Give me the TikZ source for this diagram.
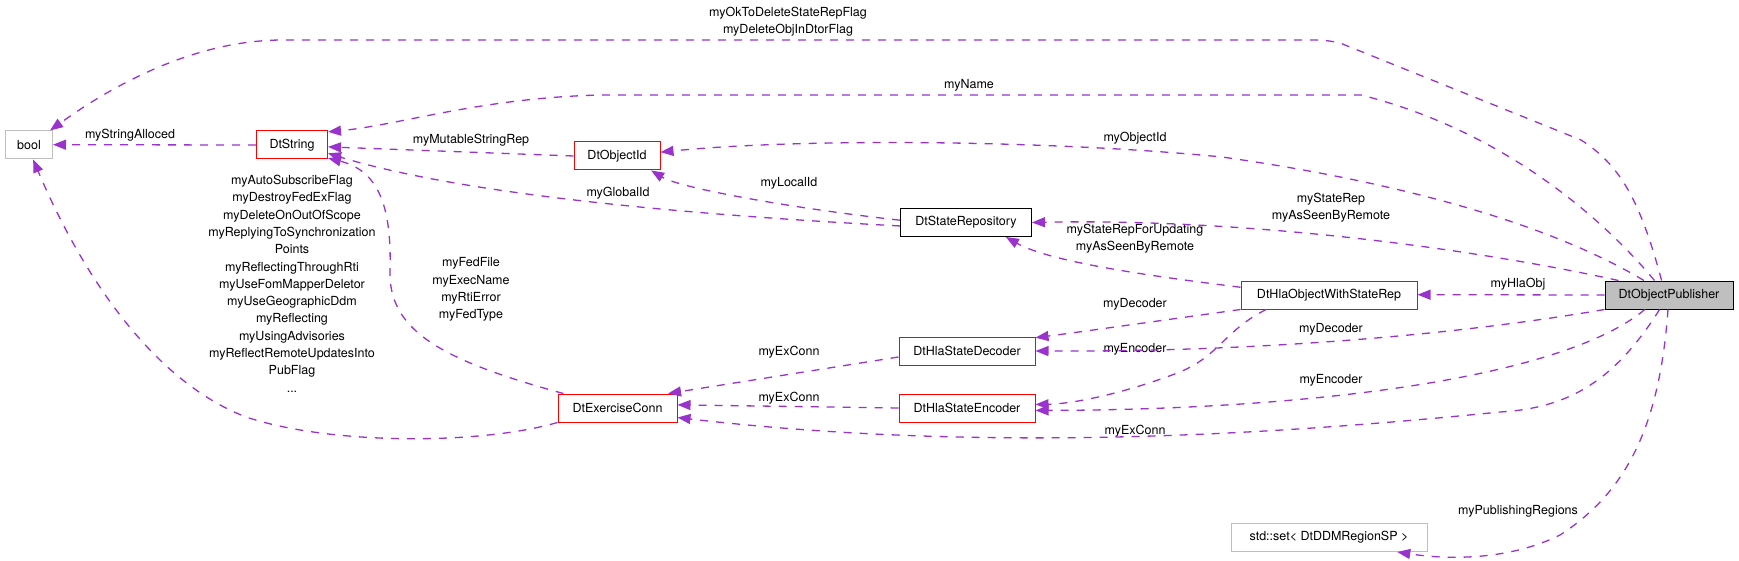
\documentclass[tikz,border=0pt]{standalone}
\usepackage{fontspec}
\setmainfont{TeX Gyre Heros}
\usetikzlibrary{arrows.meta}
\definecolor{pourpre}{HTML}{9A32CD}
\definecolor{gris}{HTML}{BFBFBF}
\tikzstyle{boite} = [rectangle, draw=red, line width=1pt, minimum height=28pt, inner sep=0pt, font=\fontsize{12.5}{15}\selectfont]
\tikzstyle{grise} = [boite, draw=gris]
\tikzstyle{noire} = [boite, draw=black]
\tikzstyle{lien} = [draw=pourpre, line width=1.3pt, dash pattern=on 8pt off 8pt, -{Triangle[length=13pt,width=10pt]}]
\tikzstyle{etiquette} = [inner sep=0pt, align=center, font=\fontsize{12.5}{17.3}\selectfont]

\begin{document}
\begin{tikzpicture}[x=1pt, y=-1pt]
        \useasboundingbox (0,0) rectangle (1739,561);

        \node (bool)   [grise, minimum width=47pt]  at (29,145)   {bool};
        \node (string) [boite, minimum width=71pt]  at (292,145)  {DtString};
        \node (objid)  [boite, minimum width=86pt]  at (617,156)  {DtObjectId};
        \node (rep)    [noire, minimum width=131pt] at (966,222.5) {DtStateRepository};
        \node (hla)    [boite, minimum width=176pt] at (1329,295) {DtHlaObjectWithStateRep};
        \node (pub)    [noire, fill=gris, minimum width=128pt] at (1669,295) {DtObjectPublisher};
        \node (dec)    [boite, minimum width=136pt] at (967,351)  {DtHlaStateDecoder};
        \node (enc)    [boite, minimum width=136pt] at (967,408)  {DtHlaStateEncoder};
        \node (exconn) [boite, minimum width=119pt] at (617.5,408) {DtExerciseConn};
        \node (regset) [grise, minimum width=196pt] at (1329,537.5) {std::set< DtDDMRegionSP >};

        \node (e1)  [etiquette] at (130,135)   {myStringAlloced};
        \node (e2)  [etiquette] at (788,21.7)  {myOkToDeleteStateRepFlag\\myDeleteObjInDtorFlag};
        \node (e3)  [etiquette] at (969,85)    {myName};
        \node (e4)  [etiquette] at (1135,138)  {myObjectId};
        \node (e5)  [etiquette] at (1331,207.5) {myStateRep\\myAsSeenByRemote};
        \node (e6)  [etiquette] at (1135,239)  {myStateRepForUpdating\\myAsSeenByRemote};
        \node (e7)  [etiquette] at (1518,284)  {myHlaObj};
        \node (e8)  [etiquette] at (789,183)   {myLocalId};
        \node (e9)  [etiquette] at (618,193)   {myGlobalId};
        \node (e10) [etiquette] at (471,140)   {myMutableStringRep};
        \node (e11) [etiquette] at (471,289.5) {myFedFile\\myExecName\\myRtiError\\myFedType};
        \node (e12) [etiquette] at (292,283.7) {myAutoSubscribeFlag\\myDestroyFedExFlag\\myDeleteOnOutOfScope\\myReplyingToSynchronization\\Points\\myReflectingThroughRti\\myUseFomMapperDeletor\\myUseGeographicDdm\\myReflecting\\myUsingAdvisories\\myReflectRemoteUpdatesInto\\PubFlag\\...};
        \node (e13) [etiquette] at (1135,304)  {myDecoder};
        \node (e14) [etiquette] at (1331,329)  {myDecoder};
        \node (e15) [etiquette] at (1135,349)  {myEncoder};
        \node (e16) [etiquette] at (1331,380)  {myEncoder};
        \node (e17) [etiquette] at (789,352)   {myExConn};
        \node (e18) [etiquette] at (789,398)   {myExConn};
        \node (e19) [etiquette] at (1135,431)  {myExConn};
        \node (e20) [etiquette] at (1518,511)  {myPublishingRegions};

        \draw[lien] (string.west) -- ([yshift=0.3pt]bool.east);
        \draw[lien] (pub.117) .. controls (1640,200) and (1620,165) .. (1581,140) -- (1340,43)
                    .. controls (1325,40) .. (1300,40) -- (283,40)
                    .. controls (200,40) and (120,80) .. ([xshift=-3pt]bool.north east);
        \draw[lien] (pub.135) .. controls (1600,215) and (1500,130) .. (1361,95) -- (600,95)
                    .. controls (480,98) and (400,125) .. (string.20);
        \draw[lien] (pub.150) .. controls (1560,230) and (1420,185) .. (1222,157)
                    .. controls (1050,140) and (800,138) .. (objid.5);
        \draw[lien] (pub.164) .. controls (1480,250) and (1250,218) .. (rep.east);
        \draw[lien] (hla.175) .. controls (1150,276) and (1050,262) .. (rep.340);
        \draw[lien] (pub.west) -- ([yshift=0.3pt]hla.east);
        \draw[lien] (rep.178) .. controls (790,208) and (680,188) .. (objid.337);
        \draw[lien] (rep.183) .. controls (750,218) and (480,200) .. (string.347);
        \draw[lien] (objid.west) -- (string.357);
        \draw[lien] (exconn.165) .. controls (440,360) and (388,330) .. (390,270)
                    .. controls (392,200) and (375,170) .. (string.340);
        \draw[lien] (exconn.south west) .. controls (480,445) and (330,445) .. (246,417)
                    .. controls (150,380) and (80,270) .. (bool.286);
        \draw[lien] (hla.south west) .. controls (1150,322) and (1080,332) .. (dec.11);
        \draw[lien] (pub.south west) .. controls (1450,336) and (1250,352) .. (dec.east);
        \draw[lien] (hla.193) .. controls (1225,330) and (1220,355) .. (1180,372)
                    .. controls (1120,395) and (1070,404) .. (enc.3);
        \draw[lien] (pub.211) .. controls (1560,380) and (1300,410) .. (enc.358);
        \draw[lien] (dec.185) -- (exconn.16);
        \draw[lien] (enc.west) -- (exconn.3);
        \draw[lien] (pub.237) .. controls (1615,380) and (1570,408) .. (1500,412)
                    .. controls (1300,432) and (1000,455) .. (exconn.351);
        \draw[lien] (pub.266) .. controls (1660,420) and (1630,490) .. (1560,535)
                    .. controls (1510,560) and (1450,560) .. (regset.348);
\end{tikzpicture}
\end{document}
